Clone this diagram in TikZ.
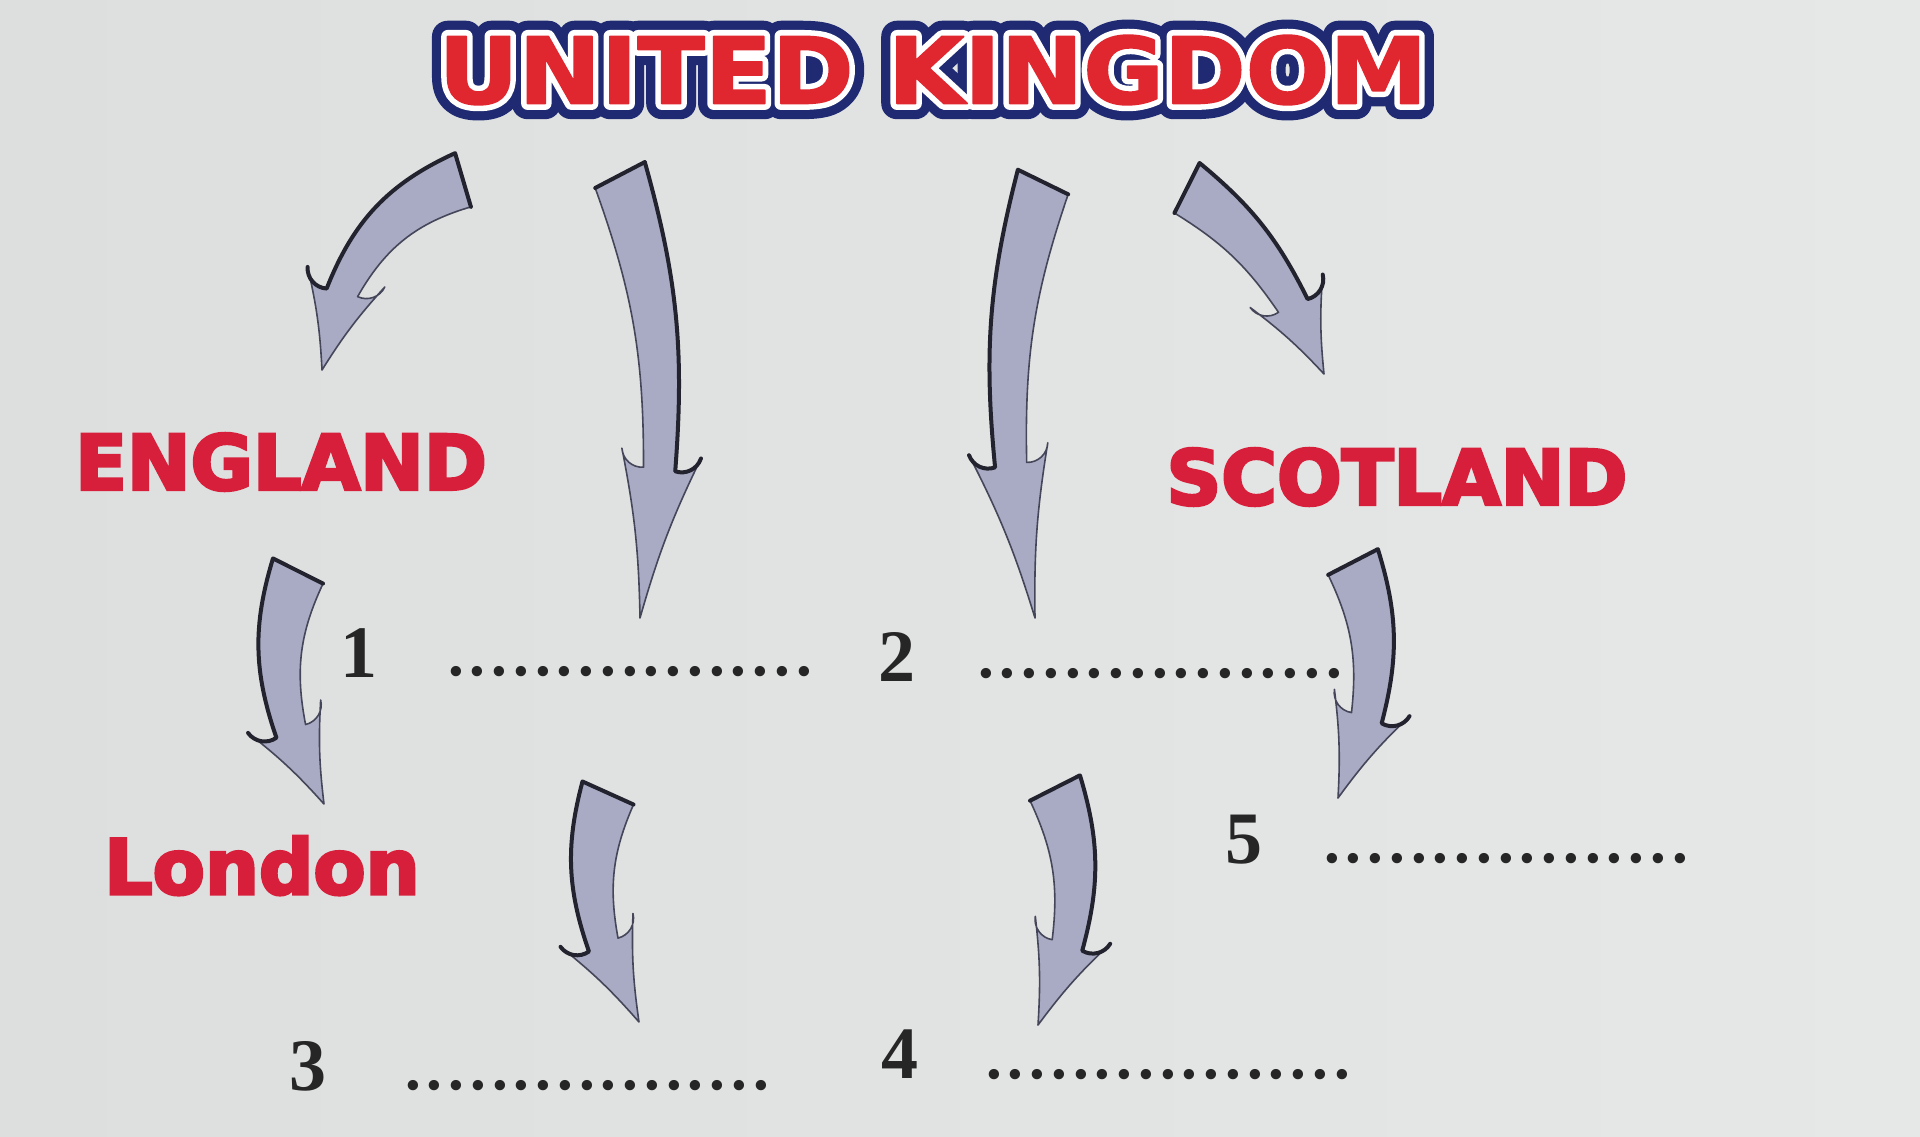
\documentclass[tikz,border=0pt]{standalone}
\usepackage{fontspec}
\usetikzlibrary{calc}
\newfontfamily\titlered{DejaVu Sans}[BoldFeatures={FakeStretch=1.07,FakeBold=2}]
\newfontfamily\titlewhite{DejaVu Sans}[BoldFeatures={FakeStretch=1.07,FakeBold=14}]
\newfontfamily\titlenavy{DejaVu Sans}[BoldFeatures={FakeStretch=1.07,FakeBold=34}]
\newfontfamily\namefont{DejaVu Sans}[BoldFeatures={FakeBold=4}]
\newfontfamily\numfont{Liberation Serif}
\definecolor{paper}{HTML}{E6E8E7}
\definecolor{paperdark}{HTML}{DDDFDE}
\definecolor{ukred}{HTML}{E0262F}
\definecolor{ukblue}{HTML}{1F2A72}
\definecolor{namered}{HTML}{D71F3B}
\definecolor{arrowfill}{HTML}{A9ABC4}
\definecolor{arrowline}{HTML}{45465A}
\definecolor{arrowdark}{HTML}{22232E}
\definecolor{ink}{HTML}{262626}
\tikzset{
  titletext/.style={inner sep=0pt,font=\fontsize{92}{92}\selectfont},
  country/.style={inner sep=0pt,text=namered,font=\namefont\bfseries\fontsize{76}{76}\selectfont},
  numeral/.style={inner sep=0pt,anchor=base,text=ink,font=\numfont\bfseries\fontsize{74}{74}\selectfont},
  dotrow/.style={inner sep=0pt,anchor=base,text=ink,font=\numfont\fontsize{87}{87}\selectfont},
  arrowbody/.style={fill=arrowfill,draw=arrowline,line width=1.6pt,line join=round},
  arrowrim/.style={draw=arrowdark,line width=4pt,line join=round,line cap=round}
}
% fat curved arrow: tail, tip, bend, head length
\newcommand{\ukarrow}[4]{%
  \ifdim #3pt>0pt \def\cutang{15}\else\def\cutang{-15}\fi
  \pgfmathsetmacro\angtl{90+#3+\cutang}%
  \pgfmathsetmacro\angtr{#3-90+\cutang}%
  \pgfmathsetmacro\angneck{-1*(#3)}%
  \coordinate (neck) at ($(#2)!#4pt!\angneck:(#1)$);
  \coordinate (tl) at ($(#1)!28pt!\angtl:(#2)$);
  \coordinate (tr) at ($(#1)!28pt!\angtr:(#2)$);
  \coordinate (nl) at ($(neck)!16pt!90:(#2)$);
  \coordinate (nr) at ($(neck)!16pt!-90:(#2)$);
  \coordinate (bl) at ($(neck)!43pt!112:(#2)$);
  \coordinate (br) at ($(neck)!43pt!-112:(#2)$);
  \filldraw[arrowbody] (tl) to[bend left=#3] (nl) to[bend right=45] (bl) to[bend right=5] (#2)
    to[bend right=5] (br) to[bend right=45] (nr) to[bend right=#3] (tr) -- cycle;
  \ifdim #3pt>0pt
    \draw[arrowrim] (tr) -- (tl) to[bend left=#3] (nl) to[bend right=45] (bl);
  \else
    \draw[arrowrim] (tl) -- (tr) to[bend left=#3] (nr) to[bend left=45] (br);
  \fi
}

\begin{document}
\begin{tikzpicture}[x=1pt,y=-1pt]
\shade[left color=paperdark,right color=paper] (0,0) rectangle (1920,1137);

% arrows
\coordinate (tail1) at (463,180);  \coordinate (tip1) at (322,370);
\coordinate (tail2) at (620,175);  \coordinate (tip2) at (640,618);
\coordinate (tail3) at (1043,182); \coordinate (tip3) at (1035,618);
\coordinate (tail4) at (1187,188); \coordinate (tip4) at (1324,374);
\coordinate (tail5) at (298,571);  \coordinate (tip5) at (324,804);
\coordinate (tail6) at (1353,562); \coordinate (tip6) at (1338,798);
\coordinate (tail7) at (608,793);  \coordinate (tip7) at (639,1022);
\coordinate (tail8) at (1055,788); \coordinate (tip8) at (1038,1025);
\ukarrow{tail1}{tip1}{-22}{80}
\ukarrow{tail2}{tip2}{10}{150}
\ukarrow{tail3}{tip3}{-10}{155}
\ukarrow{tail4}{tip4}{12}{75}
\ukarrow{tail5}{tip5}{-18}{80}
\ukarrow{tail6}{tip6}{16}{85}
\ukarrow{tail7}{tip7}{-17}{85}
\ukarrow{tail8}{tip8}{16}{85}

% title
\node (uk) [titletext] at (933,70) {\pgfsetroundjoin
  \rlap{\color{ukblue}\titlenavy\bfseries UNITED KINGDOM}%
  \rlap{\color{white}\titlewhite\bfseries UNITED KINGDOM}%
  {\color{ukred}\titlered\bfseries UNITED KINGDOM}};

% names
\node (eng) [country] at (281,462) {ENGLAND};
\node (sco) [country] at (1397,477) {SCOTLAND};
\node (lon) [country,anchor=base] at (262,894) {London};

% blanks
\node (n1) [numeral] at (359,677) {1};
\node (n2) [numeral] at (897,681) {2};
\node (n3) [numeral] at (308,1090) {3};
\node (n4) [numeral] at (900,1078) {4};
\node (n5) [numeral] at (1244,863) {5};
\node (d1) [dotrow] at (630,675) {.................};
\node (d2) [dotrow] at (1160,677) {.................};
\node (d3) [dotrow] at (587,1089) {.................};
\node (d4) [dotrow] at (1168,1078) {.................};
\node (d5) [dotrow] at (1506,862) {.................};
\end{tikzpicture}
\end{document}
